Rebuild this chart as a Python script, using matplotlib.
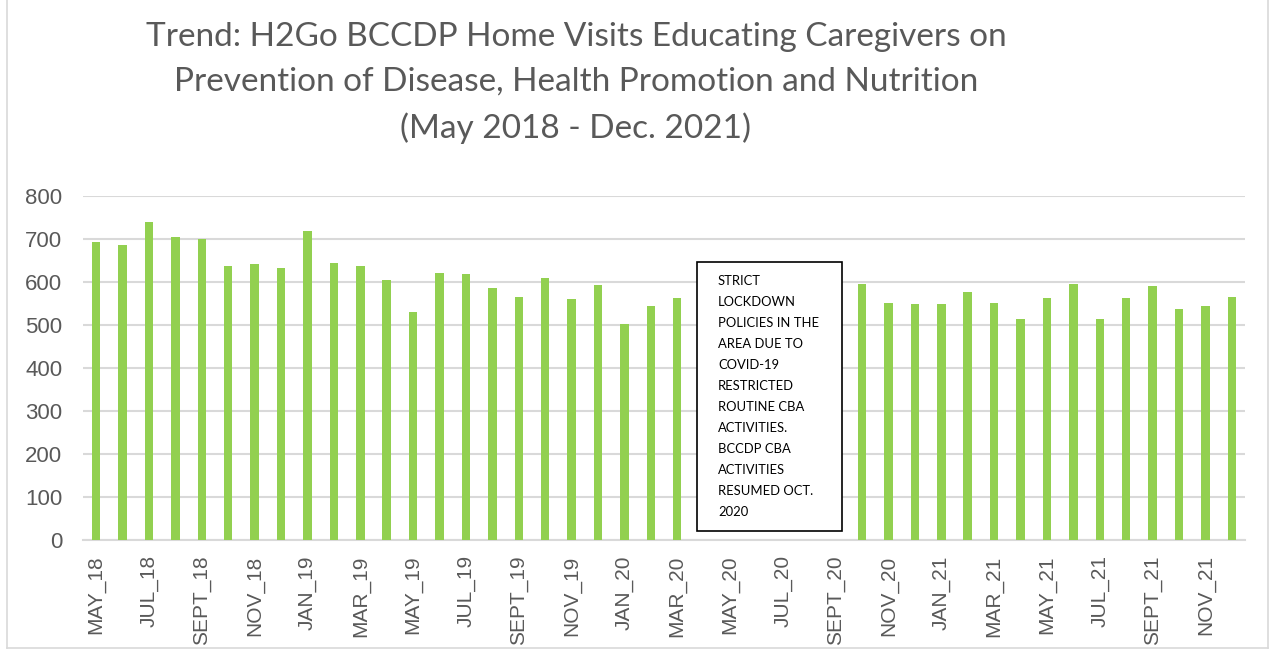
import numpy as np
import matplotlib.pyplot as plt
from matplotlib.patches import Rectangle
from matplotlib.lines import Line2D

months = ['MAY_18', 'JUN_18', 'JUL_18', 'AUG_18', 'SEPT_18', 'OCT_18', 'NOV_18', 'DEC_18',
          'JAN_19', 'FEB_19', 'MAR_19', 'APR_19', 'MAY_19', 'JUN_19', 'JUL_19', 'AUG_19',
          'SEPT_19', 'OCT_19', 'NOV_19', 'DEC_19', 'JAN_20', 'FEB_20', 'MAR_20', 'APR_20',
          'MAY_20', 'JUN_20', 'JUL_20', 'AUG_20', 'SEPT_20', 'OCT_20', 'NOV_20', 'DEC_20',
          'JAN_21', 'FEB_21', 'MAR_21', 'APR_21', 'MAY_21', 'JUN_21', 'JUL_21', 'AUG_21',
          'SEPT_21', 'OCT_21', 'NOV_21', 'DEC_21']
# no home visits Apr-Sep 2020 (lockdown)
visits = [694, 685, 740, 705, 699, 637, 643, 632,
          719, 644, 638, 605, 531, 620, 619, 586,
          565, 610, 560, 593, 502, 545, 563, np.nan,
          np.nan, np.nan, np.nan, np.nan, np.nan, 595, 551, 549,
          549, 577, 551, 515, 562, 595, 514, 563,
          590, 537, 544, 565]

title = ("Trend: H2Go BCCDP Home Visits Educating Caregivers on\n"
         "Prevention of Disease, Health Promotion and Nutrition\n"
         "(May 2018 - Dec. 2021)")
note = ("STRICT\nLOCKDOWN\nPOLICIES IN THE\nAREA DUE TO\nCOVID-19\nRESTRICTED\n"
        "ROUTINE CBA\nACTIVITIES.\nBCCDP CBA\nACTIVITIES\nRESUMED OCT.\n2020")

W, H = 1273, 651
fig = plt.figure(figsize=(W / 100, H / 100), dpi=100)
ax = fig.add_axes([83 / W, 1 - 540 / H, (1245 - 83) / W, (540 - 196) / H])

x = np.arange(len(months))
ax.bar(x, visits, width=0.32, color='#92d050', zorder=3)

ax.set_xlim(-0.5, len(months) - 0.5)
ax.set_ylim(0, 800)
ax.set_yticks(range(0, 801, 100))
ax.set_xticks(x[::2])
ax.set_xticklabels(months[::2], rotation=90, fontsize=15,
                   color='#595959', family='Liberation Sans')
for lab in ax.get_yticklabels():
    lab.set_fontsize(16)
    lab.set_color('#595959')
    lab.set_family('Liberation Sans')
ax.tick_params(axis='x', length=0, pad=11)
ax.tick_params(axis='y', length=0, pad=15)
ax.grid(axis='y', color='#d9d9d9', linewidth=1.5, zorder=0)
for s in ['top', 'right', 'left']:
    ax.spines[s].set_visible(False)
ax.spines['bottom'].set_color('#d9d9d9')
ax.spines['bottom'].set_linewidth(1.5)

fig.text(576 / W, 1 - 83 / H, title, ha='center', va='center', fontsize=24,
         color='#595959', family='Lato', linespacing=1.6)

# annotation box
fig.patches.append(Rectangle((697 / W, 1 - 531 / H), (842 - 697) / W, (531 - 262) / H,
                             transform=fig.transFigure, facecolor='white',
                             edgecolor='black', linewidth=1.2, zorder=5))
fig.text(718 / W, 1 - 275 / H, note, ha='left', va='top', fontsize=9.4,
         family='Lato', color='black', linespacing=1.9, zorder=6)

# chart area border
for xs, ys in [([7, 7], [0, 648]), ([7, 1268], [648, 648]), ([1268, 1268], [0, 648])]:
    fig.add_artist(Line2D([v / W for v in xs], [1 - v / H for v in ys],
                          color='#d9d9d9', linewidth=1.2))

fig.savefig('out.png', dpi=100)
